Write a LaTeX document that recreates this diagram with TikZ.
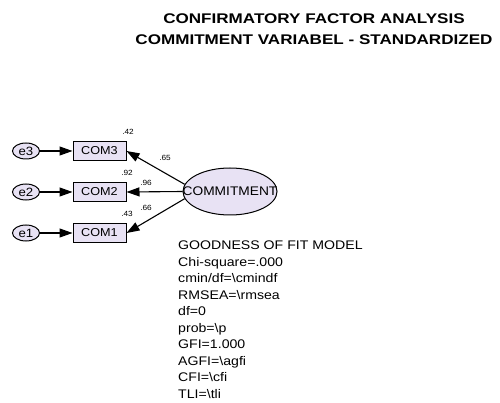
\documentclass[tikz,border=0pt]{standalone}
\usepackage{fontspec}
\setmainfont{Liberation Sans}
\newfontfamily\titlefont[FakeStretch=1.22]{Liberation Sans}
\newfontfamily\bodyfont[FakeStretch=1.13]{Liberation Sans}
\newfontfamily\nodefont[FakeStretch=1.1]{Liberation Sans}
\usetikzlibrary{shapes.geometric,arrows.meta}
\definecolor{lav}{RGB}{232,226,244}
\tikzset{
  errnode/.style={ellipse,draw=black,line width=1pt,fill=lav,inner sep=0pt,
    minimum width=27pt,minimum height=16pt,font=\nodefont\fontsize{12}{13}\selectfont},
  obsnode/.style={rectangle,draw=black,line width=1pt,fill=lav,inner sep=0pt,
    minimum width=53pt,minimum height=19pt,font=\nodefont\fontsize{11.5}{12}\selectfont},
  latnode/.style={ellipse,draw=black,line width=1pt,fill=lav,inner sep=0pt,
    minimum width=94pt,minimum height=47pt},
  lattext/.style={inner sep=0pt,font=\nodefont\fontsize{12.5}{13}\selectfont},
  coef/.style={inner sep=0pt,font=\nodefont\fontsize{7.5}{8}\selectfont},
  arr/.style={line width=1.1pt,-{Triangle[length=13pt,width=9pt]}},
  titletext/.style={inner sep=0pt,font=\titlefont\bfseries\fontsize{14}{16}\selectfont},
  fittext/.style={inner sep=0pt,anchor=base west,font=\bodyfont\fontsize{12.5}{14}\selectfont}
}
\begin{document}
\begin{tikzpicture}[x=1pt,y=-1pt]
\useasboundingbox (0,0) rectangle (500,403);
% title
\node[titletext] (t1) at (314,19) {CONFIRMATORY FACTOR ANALYSIS};
\node[titletext] (t2) at (314,40) {COMMITMENT VARIABEL - STANDARDIZED};
% error terms
\node[errnode] (e3) at (26,151) {e3};
\node[errnode] (e2) at (26,192) {e2};
\node[errnode] (e1) at (26,233) {e1};
% observed
\node[obsnode] (com3) at (99.5,151) {COM3};
\node[obsnode] (com2) at (99.5,192) {COM2};
\node[obsnode] (com1) at (99.5,233) {COM1};
% latent
\node[latnode] (C) at (230,191.5) {};
\node[lattext] (Ct) at (C.center) {COMMITMENT};
% arrows
\draw[arr] (e3) -- (com3);
\draw[arr] (e2) -- (com2);
\draw[arr] (e1) -- (com1);
\draw[arr] (C.171) -- (com3.east);
\draw[arr] (C.180) -- (com2.east);
\draw[arr] (C.189) -- (com1.east);
% coefficients
\node[coef] (r3) at (128,132) {.42};
\node[coef] (r2) at (127,173) {.92};
\node[coef] (r1) at (127,214) {.43};
\node[coef] (l3) at (165,158) {.65};
\node[coef] (l2) at (146,183) {.96};
\node[coef] (l1) at (146,208) {.66};
% fit statistics
\node[fittext] (g0) at (178,249.5) {GOODNESS OF FIT MODEL};
\node[fittext] (g1) at (178,266) {Chi-square=.000};
\node[fittext] (g2) at (178,282.5) {cmin/df=\textbackslash cmindf};
\node[fittext] (g3) at (178,299) {RMSEA=\textbackslash rmsea};
\node[fittext] (g4) at (178,315.5) {df=0};
\node[fittext] (g5) at (178,332) {prob=\textbackslash p};
\node[fittext] (g6) at (178,348.5) {GFI=1.000};
\node[fittext] (g7) at (178,365) {AGFI=\textbackslash agfi};
\node[fittext] (g8) at (178,381.5) {CFI=\textbackslash cfi};
\node[fittext] (g9) at (178,398) {TLI=\textbackslash tli};
\end{tikzpicture}
\end{document}
